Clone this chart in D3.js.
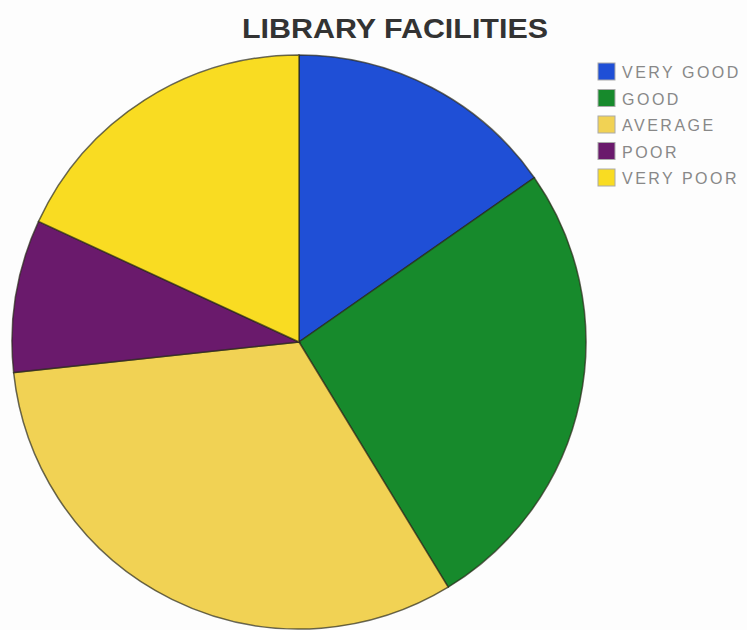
<!DOCTYPE html>
<html><head><meta charset="utf-8">
<script src="https://cdn.jsdelivr.net/npm/d3@7"></script>
<style>body{margin:0;background:#fdfdfd;}svg{display:block;}</style>
</head><body>
<svg id="c" width="747" height="630"></svg>
<script>
const categories = ["VERY GOOD","GOOD","AVERAGE","POOR","VERY POOR"];
const values = [15.3, 26, 32, 8.6, 18.1];
const colors = ["#1f4fd6","#178a2c","#f1d254","#6a1a6c","#f9dc22"];
const title = "LIBRARY FACILITIES";

const svg = d3.select("#c");
const cx = 299, cy = 342, r = 287;
const data = categories.map((c,i)=>({c, v: values[i], col: colors[i]}));
const pie = d3.pie().value(d=>d.v).sort(null);
const arc = d3.arc().innerRadius(0).outerRadius(r);
const g = svg.append("g").attr("transform",`translate(${cx},${cy})`);
g.selectAll("path").data(pie(data)).join("path")
  .attr("d", arc).attr("fill", d=>d.data.col)
  .attr("stroke","#2a2a1a").attr("stroke-width",1.5).attr("stroke-opacity",0.7);

svg.append("text").attr("x",395).attr("y",38).attr("text-anchor","middle")
  .attr("font-family","Liberation Sans, Arial, sans-serif").attr("font-weight","bold")
  .attr("font-size",27.5).attr("fill","#333").attr("textLength",306).attr("lengthAdjust","spacingAndGlyphs")
  .text(title);

const lg = svg.append("g").attr("transform","translate(598,63)");
const row = lg.selectAll("g").data(data).join("g").attr("transform",(d,i)=>`translate(0,${i*26.5})`);
row.append("rect").attr("width",17).attr("height",17).attr("fill",d=>d.col)
  .attr("stroke","#aaa").attr("stroke-width",1);
row.append("text").attr("x",24).attr("y",15)
  .attr("font-family","Liberation Sans, Arial, sans-serif").attr("font-size",16)
  .attr("letter-spacing",2.5)
  .attr("fill","#888").text(d=>d.c);
</script>
</body></html>
